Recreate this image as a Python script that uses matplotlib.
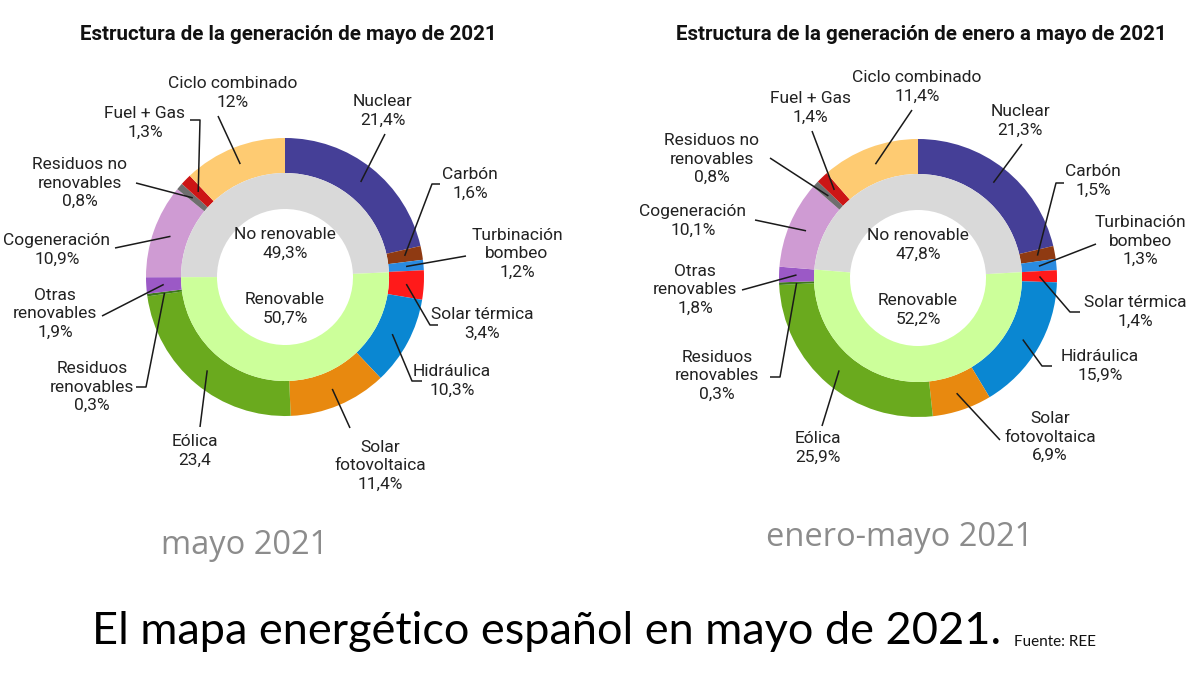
import matplotlib
matplotlib.use("Agg")
import matplotlib.pyplot as plt
import numpy as np

# ---- data ----
SEGMENTS = ["Nuclear", "Carbón", "Turbinación\nbombeo", "Solar térmica", "Hidráulica",
            "Solar\nfotovoltaica", "Eólica", "Residuos\nrenovables", "Otras\nrenovables",
            "Cogeneración", "Residuos no\nrenovables", "Fuel + Gas", "Ciclo combinado"]
RENEWABLE = [False, False, False, True, True, True, True, True, True,
             False, False, False, False]
MAY_VALUES = [21.4, 1.6, 1.2, 3.4, 10.3, 11.4, 23.4, 0.3, 1.9, 10.9, 0.8, 1.3, 12.0]
MAY_LABELS = ["21,4%", "1,6%", "1,2%", "3,4%", "10,3%", "11,4%", "23,4", "0,3%", "1,9%",
              "10,9%", "0,8%", "1,3%", "12%"]
YTD_VALUES = [21.3, 1.5, 1.3, 1.4, 15.9, 6.9, 25.9, 0.3, 1.8, 10.1, 0.8, 1.4, 11.4]
YTD_LABELS = ["21,3%", "1,5%", "1,3%", "1,4%", "15,9%", "6,9%", "25,9%", "0,3%", "1,8%",
              "10,1%", "0,8%", "1,4%", "11,4%"]
INNER_NAMES = ["No renovable", "Renovable"]
MAY_INNER = [49.3, 50.7]
YTD_INNER = [47.8, 52.2]

COLORS = ["#453f97", "#8f3a12", "#2a8be0", "#ff1a1a", "#0a87d2", "#e8890f", "#6aaa1e",
          "#3d7a1a", "#9b59c6", "#cf9bd3", "#6e6e6e", "#cc1515", "#fecb72"]
INNER_COLORS = ["#d9d9d9", "#ccff9a"]
INK = "#222222"
LABEL_FONT = ["Liberation Sans Narrow", "Roboto", "DejaVu Sans"]

H = 700
R_OUT, R_MID, R_IN = 139, 104, 68

# label layout, image pixel coords: text centre, line start, optional elbow
MAY_LAYOUT = [
    ((383, 111), (385, 134), None),
    ((470, 184), (440, 184), (432, 184)),
    ((517, 254), (466, 256), None),
    ((482, 324), (438, 325), (430, 325)),
    ((452, 381), (422, 381), (412, 381)),
    ((380, 466), (350, 428), None),
    ((195, 451), (200, 427), None),
    ((92, 387), (136, 387), (146, 387)),
    ((55, 314), (102, 316), None),
    ((57, 250), (115, 248), None),
    ((80, 183), (136, 183), None),
    ((145, 123), (190, 120), (200, 120)),
    ((233, 93), (218, 116), None),
]
YTD_LAYOUT = [
    ((1020, 121), (1022, 144), None),
    ((1093, 181), (1064, 183), (1056, 183)),
    ((1140, 241), (1096, 244), None),
    ((1135, 312), (1080, 312), (1070, 312)),
    ((1100, 366), (1052, 366), (1042, 366)),
    ((1050, 437), (1000, 440), None),
    ((818, 448), (822, 426), None),
    ((717, 376), (770, 377), (780, 377)),
    ((695, 290), (742, 290), None),
    ((693, 221), (755, 220), None),
    ((712, 159), (770, 158), None),
    ((810, 108), (812, 131), None),
    ((917, 87), (912, 110), None),
]


def P(x, y):
    return (x, H - y)


def donut(ax, centre, values, labels, inner, layout, title, subtitle, sub_pos):
    cx, cy = P(*centre)
    wedges, _ = ax.pie(values, radius=R_OUT, center=(cx, cy), startangle=90,
                       counterclock=False, colors=COLORS,
                       wedgeprops=dict(width=R_OUT - R_MID, linewidth=0))
    # inner ring starts where the trailing non-renewable block begins
    tail = 0.0
    for v, ren in zip(values[::-1], RENEWABLE[::-1]):
        if ren:
            break
        tail += v
    start = 90 + 360 * tail / sum(values)
    ax.pie(inner, radius=R_MID, center=(cx, cy), startangle=start, counterclock=False,
           colors=INNER_COLORS, wedgeprops=dict(width=R_MID - R_IN, linewidth=0))
    ax.text(cx, cy + 33, f"{INNER_NAMES[0]}\n{inner[0]:.1f}%".replace(".", ","),
            ha="center", va="center", fontsize=12.5, color=INK, family=LABEL_FONT,
            linespacing=1.3)
    ax.text(cx, cy - 32, f"{INNER_NAMES[1]}\n{inner[1]:.1f}%".replace(".", ","),
            ha="center", va="center", fontsize=12.5, color=INK, family=LABEL_FONT,
            linespacing=1.3)

    for w, name, lab, (tpos, lstart, elbow) in zip(wedges, SEGMENTS, labels, layout):
        a = np.deg2rad((w.theta1 + w.theta2) / 2)
        rr = (R_OUT + R_MID) / 2
        px, py = cx + rr * np.cos(a), cy + rr * np.sin(a)
        pts = [P(*lstart)]
        if elbow:
            pts.append(P(*elbow))
        pts.append((px, py))
        xs, ys = zip(*pts)
        ax.plot(xs, ys, color="#1a1a1a", lw=1.1, zorder=5, solid_capstyle="butt")
        ax.text(*P(*tpos), f"{name}\n{lab}", ha="center", va="center", fontsize=12.5,
                color=INK, family=LABEL_FONT, linespacing=1.3, zorder=6)

    ax.text(*P(centre[0] + 3, 35), title, ha="center", va="center", fontsize=14.8,
            fontweight="bold", color="#111111", family=LABEL_FONT)
    ax.text(*P(*sub_pos), subtitle, ha="center", va="center", fontsize=23.5,
            color="#8c8c8c", family=["Open Sans", "DejaVu Sans"])


fig = plt.figure(figsize=(12, 7), dpi=100)
ax = fig.add_axes([0, 0, 1, 1])

donut(ax, (285, 277), MAY_VALUES, MAY_LABELS, MAY_INNER, MAY_LAYOUT,
      "Estructura de la generación de mayo de 2021", "mayo 2021", (245, 546))
donut(ax, (918, 278), YTD_VALUES, YTD_LABELS, YTD_INNER, YTD_LAYOUT,
      "Estructura de la generación de enero a mayo de 2021", "enero-mayo 2021", (900, 538))

ax.text(*P(92, 632), "El mapa energético español en mayo de 2021.", ha="left",
        va="center", fontsize=32.5, color="#000000", family=["Lato", "DejaVu Sans"])
ax.text(*P(1014, 642), "Fuente: REE", ha="left", va="center", fontsize=11,
        color="#111111", family=["Lato", "DejaVu Sans"])

ax.set_xlim(0, 1200)
ax.set_ylim(0, H)
ax.set_aspect("equal")
ax.axis("off")
fig.savefig("out.png", dpi=100, facecolor="white")
